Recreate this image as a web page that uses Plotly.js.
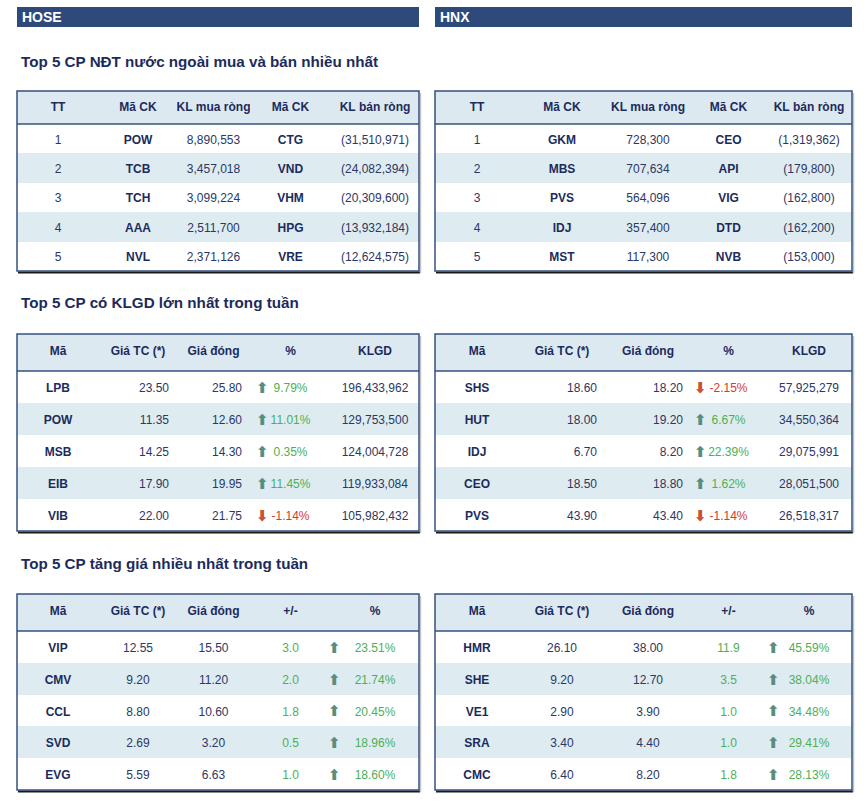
<!DOCTYPE html>
<html>
<head>
<meta charset="utf-8">
<script src="https://cdn.plot.ly/plotly-3.0.1.min.js"></script>
<style>html,body{margin:0;padding:0;background:#fff;}#chart{width:864px;height:806px;}</style>
</head>
<body>
<div id="chart"></div>
<script>
// ---------- DATA ----------
const rankNo = [1, 2, 3, 4, 5];

// Top 5 foreign net buy / sell
const hoseBuyCode = ['POW', 'TCB', 'TCH', 'AAA', 'NVL'];
const hoseBuyVol = [8890553, 3457018, 3099224, 2511700, 2371126];
const hoseSellCode = ['CTG', 'VND', 'VHM', 'HPG', 'VRE'];
const hoseSellVol = [-31510971, -24082394, -20309600, -13932184, -12624575];
const hnxBuyCode = ['GKM', 'MBS', 'PVS', 'IDJ', 'MST'];
const hnxBuyVol = [728300, 707634, 564096, 357400, 117300];
const hnxSellCode = ['CEO', 'API', 'VIG', 'DTD', 'NVB'];
const hnxSellVol = [-1319362, -179800, -162800, -162200, -153000];

// Top 5 by trading volume
const hoseVolCode = ['LPB', 'POW', 'MSB', 'EIB', 'VIB'];
const hoseVolRef = [23.50, 11.35, 14.25, 17.90, 22.00];
const hoseVolClose = [25.80, 12.60, 14.30, 19.95, 21.75];
const hoseVolPct = [9.79, 11.01, 0.35, 11.45, -1.14];
const hoseVolKLGD = [196433962, 129753500, 124004728, 119933084, 105982432];
const hnxVolCode = ['SHS', 'HUT', 'IDJ', 'CEO', 'PVS'];
const hnxVolRef = [18.60, 18.00, 6.70, 18.50, 43.90];
const hnxVolClose = [18.20, 19.20, 8.20, 18.80, 43.40];
const hnxVolPct = [-2.15, 6.67, 22.39, 1.62, -1.14];
const hnxVolKLGD = [57925279, 34550364, 29075991, 28051500, 26518317];

// Top 5 gainers
const hoseGainCode = ['VIP', 'CMV', 'CCL', 'SVD', 'EVG'];
const hoseGainRef = [12.55, 9.20, 8.80, 2.69, 5.59];
const hoseGainClose = [15.50, 11.20, 10.60, 3.20, 6.63];
const hoseGainChg = [3.0, 2.0, 1.8, 0.5, 1.0];
const hoseGainPct = [23.51, 21.74, 20.45, 18.96, 18.60];
const hnxGainCode = ['HMR', 'SHE', 'VE1', 'SRA', 'CMC'];
const hnxGainRef = [26.10, 9.20, 2.90, 3.40, 6.40];
const hnxGainClose = [38.00, 12.70, 3.90, 4.40, 8.20];
const hnxGainChg = [11.9, 3.5, 1.0, 1.0, 1.8];
const hnxGainPct = [45.59, 38.04, 34.48, 29.41, 28.13];

// Text
const exchangeNames = ['HOSE', 'HNX'];
const sectionTitles = ['Top 5 CP NĐT nước ngoài mua và bán nhiều nhất', 'Top 5 CP có KLGD lớn nhất trong tuần', 'Top 5 CP tăng giá nhiều nhất trong tuần'];
const headersForeign = ['TT', 'Mã CK', 'KL mua ròng', 'Mã CK', 'KL bán ròng'];
const headersVolume = ['Mã', 'Giá TC (*)', 'Giá đóng', '%', 'KLGD'];
const headersGain = ['Mã', 'Giá TC (*)', 'Giá đóng', '+/-', '%'];

// ---------- STYLE ----------
const W = 864, H = 806;
const FONT = 'Liberation Sans, Arial, sans-serif';
const NAVY = '#1c2b5c';
const NUM = '#2b3764';
const BORDER = '#34507f';
const BAR = '#2d4a7b';
const HEAD_FILL = '#dde9f1';
const ALT_FILL = '#deecf2';
const GREEN = '#4fae56';
const RED = '#d63a2c';
const ARROW_UP = '#5b8d7c';
const ARROW_DN = '#c9532f';
const ARROW_UP_CHAR = '\u2B06';
const ARROW_DN_CHAR = '\u2B07';
const CLEAR = 'rgba(0,0,0,0)';

const leftCols = [17, 99, 177, 250, 331, 419];
const rightCols = [435, 519, 605, 691, 766, 852];
const sides = [leftCols, rightCols];

const tableRows = [
  {top: 91, head: 33, row: 29.4, dy: 2.5},
  {top: 334, head: 37, row: 32, dy: 4},
  {top: 594, head: 37, row: 31.8, dy: 4}
];

const px = x => x / W;
const py = y => 1 - y / H;

const fmtInt = v => Math.abs(v).toLocaleString('en-US');
const fmtVol = v => v < 0 ? '(' + fmtInt(v) + ')' : fmtInt(v);
const fmt2 = v => v.toFixed(2);
const fmtPct = v => v.toFixed(2) + '%';
const nb = s => s.replace(/ /g, '\u00a0');
const rowFill = n => Array.from({length: n}, (_, i) => i % 2 === 1 ? ALT_FILL : '#ffffff');

function colWidths(cols) {
  const w = [];
  for (let i = 0; i < cols.length - 1; i++) w.push(cols[i + 1] - cols[i]);
  return w;
}

function domainOf(cols, tr, dy) {
  return {x: [px(cols[0]), px(cols[cols.length - 1])], y: [py(tr.top + dy + tr.head + 5 * tr.row + 8), py(tr.top + dy)]};
}

function makeTable(cols, tr, headers, columns, colors, weights, align) {
  const fills = rowFill(5);
  const bg = {
    type: 'table',
    domain: domainOf(cols, tr, 0),
    columnwidth: colWidths(cols),
    header: {values: headers.map(() => ''), height: tr.head, fill: {color: HEAD_FILL}, line: {width: 0, color: HEAD_FILL}},
    cells: {values: columns.map(c => c.map(() => '')), height: tr.row, fill: {color: columns.map(() => fills)}, line: {width: 0, color: CLEAR}}
  };
  const txt = {
    type: 'table',
    domain: domainOf(cols, tr, tr.dy),
    columnwidth: colWidths(cols),
    header: {
      values: headers.map(nb),
      align: 'center',
      height: tr.head,
      fill: {color: CLEAR},
      line: {width: 0, color: CLEAR},
      font: {family: FONT, size: 12, color: NAVY, weight: 700}
    },
    cells: {
      values: columns,
      align: align,
      height: tr.row,
      fill: {color: CLEAR},
      line: {width: 0, color: CLEAR},
      font: {family: FONT, size: 12, color: colors, weight: weights}
    }
  };
  return [bg, txt];
}

function arrowTable(cols, tr, arrowX, pcts) {
  const x0 = cols[0], x1 = cols[cols.length - 1];
  const arrows = pcts.map(v => v >= 0 ? ARROW_UP_CHAR : ARROW_DN_CHAR);
  const colArr = pcts.map(v => v >= 0 ? ARROW_UP : ARROW_DN);
  return {
    type: 'table',
    domain: domainOf(cols, tr, tr.dy - 1.5),
    columnwidth: [arrowX - 8 - x0, x1 - (arrowX - 8)],
    header: {values: ['', ''], height: tr.head, fill: {color: CLEAR}, line: {width: 0, color: CLEAR}},
    cells: {
      values: [pcts.map(() => ''), arrows],
      align: 'left',
      height: tr.row,
      fill: {color: CLEAR},
      line: {width: 0, color: CLEAR},
      font: {family: 'DejaVu Sans, sans-serif', size: 15, weight: 700, color: [pcts.map(() => NUM), colArr]}
    }
  };
}

const navyCol = Array(5).fill(NAVY);
const numCol = Array(5).fill(NUM);
const traces = [];

// Table 1: foreign
const foreignData = [
  [hoseBuyCode, hoseBuyVol, hoseSellCode, hoseSellVol],
  [hnxBuyCode, hnxBuyVol, hnxSellCode, hnxSellVol]
];
foreignData.forEach((d, s) => {
  traces.push(...makeTable(sides[s], tableRows[0], headersForeign,
    [rankNo.map(String), d[0], d[1].map(fmtVol), d[2], d[3].map(fmtVol)],
    [numCol, navyCol, numCol, navyCol, numCol],
    [400, 700, 400, 700, 400],
    ['center', 'center', 'center', 'center', 'center']));
});

// Table 2: volume
const volumeData = [
  [hoseVolCode, hoseVolRef, hoseVolClose, hoseVolPct, hoseVolKLGD],
  [hnxVolCode, hnxVolRef, hnxVolClose, hnxVolPct, hnxVolKLGD]
];
const volArrowX = [256, 694];
volumeData.forEach((d, s) => {
  traces.push(...makeTable(sides[s], tableRows[1], headersVolume,
    [d[0], d[1].map(fmt2), d[2].map(fmt2), d[3].map(fmtPct), d[4].map(fmtInt)],
    [navyCol, numCol, numCol, d[3].map(v => v >= 0 ? GREEN : RED), numCol],
    [700, 400, 400, 400, 400],
    ['center', 'right', 'right', 'center', 'center']));
  traces.push(arrowTable(sides[s], tableRows[1], volArrowX[s], d[3]));
});

// Table 3: gainers
const gainData = [
  [hoseGainCode, hoseGainRef, hoseGainClose, hoseGainChg, hoseGainPct],
  [hnxGainCode, hnxGainRef, hnxGainClose, hnxGainChg, hnxGainPct]
];
const gainArrowX = [328, 767];
gainData.forEach((d, s) => {
  traces.push(...makeTable(sides[s], tableRows[2], headersGain,
    [d[0], d[1].map(fmt2), d[2].map(fmt2), d[3].map(v => v.toFixed(1)), d[4].map(fmtPct)],
    [navyCol, numCol, numCol, d[3].map(v => v >= 0 ? GREEN : RED), d[4].map(v => v >= 0 ? GREEN : RED)],
    [700, 400, 400, 400, 400],
    ['center', 'center', 'center', 'center', 'center']));
  traces.push(arrowTable(sides[s], tableRows[2], gainArrowX[s], d[4]));
});

// ---------- SHAPES & ANNOTATIONS ----------
const shapes = [];
const annotations = [];

sides.forEach((cols, s) => {
  const x0 = cols[0], x1 = cols[cols.length - 1];
  shapes.push({type: 'rect', xref: 'paper', yref: 'paper', x0: px(x0), x1: px(x1), y0: py(27), y1: py(7),
    fillcolor: BAR, line: {width: 0}});
  annotations.push({xref: 'paper', yref: 'paper', x: px(x0 + 3), y: py(17), xanchor: 'left', yanchor: 'middle',
    text: '<b>' + exchangeNames[s] + '</b>', showarrow: false, font: {family: FONT, size: 14, color: '#ffffff'}});
  tableRows.forEach(tr => {
    const top = tr.top, hb = tr.top + tr.head, bot = tr.top + tr.head + 5 * tr.row;
    shapes.push({type: 'line', xref: 'paper', yref: 'paper', x0: px(x0 + 1), x1: px(x1 + 1), y0: py(bot + 1.5), y1: py(bot + 1.5),
      line: {color: '#1a1a1a', width: 2}});
    shapes.push({type: 'line', xref: 'paper', yref: 'paper', x0: px(x1 + 1.5), x1: px(x1 + 1.5), y0: py(top + 2), y1: py(bot + 2),
      line: {color: '#bfc4cc', width: 1.5}});
    shapes.push({type: 'rect', xref: 'paper', yref: 'paper', x0: px(x0), x1: px(x1), y0: py(bot), y1: py(top),
      line: {color: BORDER, width: 1.5}});
    shapes.push({type: 'line', xref: 'paper', yref: 'paper', x0: px(x0), x1: px(x1), y0: py(hb), y1: py(hb),
      line: {color: BORDER, width: 1.5}});
  });
});

const titleY = [62, 303, 563];
sectionTitles.forEach((t, i) => {
  annotations.push({xref: 'paper', yref: 'paper', x: px(19), y: py(titleY[i]), xanchor: 'left', yanchor: 'middle',
    text: '<b>' + t + '</b>', showarrow: false, font: {family: FONT, size: 15.2, color: NAVY}});
});

const layout = {
  width: W, height: H,
  margin: {l: 0, r: 0, t: 0, b: 0},
  paper_bgcolor: '#ffffff',
  plot_bgcolor: '#ffffff',
  showlegend: false,
  shapes: shapes,
  annotations: annotations
};

Plotly.newPlot('chart', traces, layout, {displayModeBar: false, staticPlot: true});
</script>
</body>
</html>
